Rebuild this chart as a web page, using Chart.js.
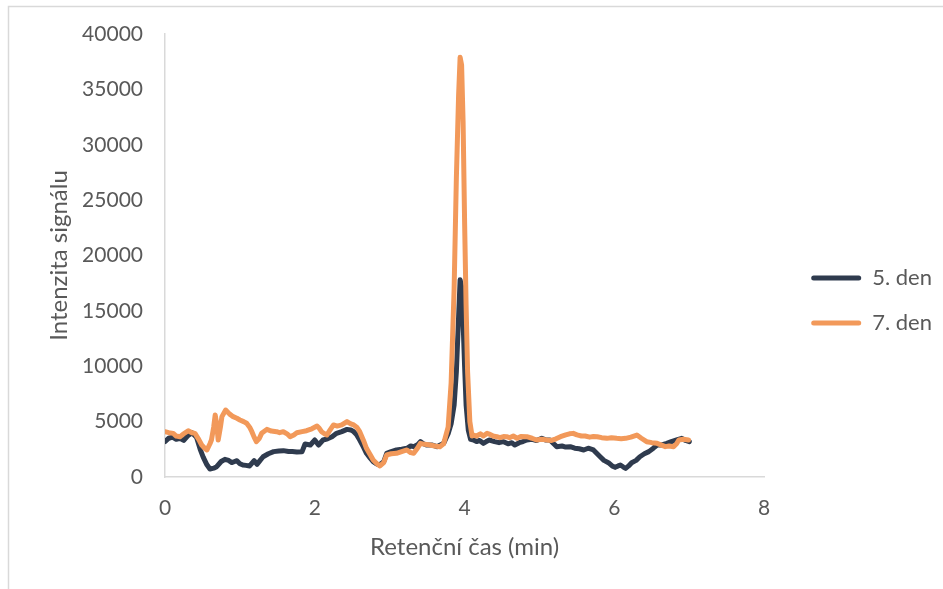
<!DOCTYPE html>
<html><head><meta charset="utf-8">
<script src="https://cdn.jsdelivr.net/npm/chart.js@4"></script>
<style>html,body{margin:0;padding:0;background:#fff;}</style>
</head><body>
<canvas id="c" width="943" height="589" style="display:block"></canvas>
<script>
const seriesNames = ['5. den', '7. den'];
const xTitle = 'Retenční čas (min)';
const yTitle = 'Intenzita signálu';
const xTicks = [0, 2, 4, 6, 8];
const yTicks = [0, 5000, 10000, 15000, 20000, 25000, 30000, 35000, 40000];

const time5 = [0.00,0.05,0.10,0.15,0.20,0.25,0.30,0.36,0.42,0.47,0.51,0.56,0.60,0.65,0.69,0.75,0.80,0.85,0.89,0.93,0.96,1.00,1.04,1.08,1.13,1.19,1.23,1.27,1.31,1.38,1.45,1.52,1.58,1.65,1.70,1.76,1.83,1.87,1.94,2.00,2.05,2.11,2.17,2.23,2.29,2.36,2.43,2.48,2.52,2.56,2.60,2.65,2.69,2.74,2.78,2.82,2.86,2.92,2.96,3.02,3.09,3.16,3.23,3.28,3.32,3.37,3.41,3.45,3.49,3.56,3.63,3.68,3.72,3.78,3.82,3.86,3.89,3.92,3.94,3.96,3.98,4.00,4.02,4.05,4.08,4.12,4.16,4.20,4.25,4.29,4.33,4.40,4.46,4.52,4.58,4.63,4.67,4.73,4.78,4.83,4.90,4.96,5.03,5.08,5.14,5.19,5.23,5.30,5.35,5.41,5.47,5.53,5.59,5.65,5.72,5.77,5.81,5.86,5.92,5.97,6.01,6.05,6.08,6.12,6.15,6.19,6.23,6.29,6.34,6.40,6.46,6.52,6.57,6.63,6.70,6.76,6.83,6.90,6.95,7.00];
const int5 = [3200,3500,3600,3400,3500,3300,3700,4000,3600,2500,1800,1100,720,800,930,1400,1600,1500,1300,1400,1470,1200,1080,1050,1000,1470,1150,1500,1830,2100,2290,2350,2380,2300,2300,2260,2290,2980,2890,3340,2890,3340,3450,3640,3940,4100,4300,4250,4090,3800,3340,2700,2140,1700,1380,1200,1080,1380,2140,2300,2440,2500,2590,2800,2740,2900,3190,3000,2890,2900,2740,2900,3040,3900,4800,6500,9500,14500,17800,17200,14000,10000,6500,4200,3400,3340,3200,3300,3040,3200,3340,3200,3100,3190,3000,3100,2890,3100,3200,3340,3400,3300,3490,3350,3340,3000,2740,2800,2700,2740,2600,2550,2440,2600,2440,2100,1830,1500,1290,1000,870,1000,1080,900,780,1000,1290,1500,1830,2100,2290,2600,2890,2900,3040,3200,3340,3490,3300,3190];

const time7 = [0.00,0.05,0.11,0.15,0.20,0.25,0.31,0.36,0.40,0.45,0.49,0.53,0.56,0.60,0.62,0.65,0.67,0.69,0.71,0.74,0.76,0.81,0.86,0.91,0.96,1.00,1.05,1.09,1.13,1.16,1.19,1.22,1.26,1.29,1.36,1.42,1.49,1.53,1.58,1.63,1.67,1.72,1.76,1.83,1.89,1.96,2.03,2.06,2.09,2.13,2.16,2.20,2.25,2.30,2.36,2.43,2.48,2.52,2.56,2.60,2.65,2.69,2.74,2.78,2.83,2.87,2.92,2.96,3.02,3.09,3.16,3.23,3.28,3.32,3.37,3.41,3.47,3.54,3.60,3.67,3.72,3.78,3.82,3.86,3.89,3.92,3.94,3.96,3.98,4.00,4.02,4.04,4.07,4.10,4.12,4.16,4.21,4.25,4.30,4.34,4.38,4.43,4.47,4.52,4.56,4.60,4.65,4.70,4.75,4.83,4.90,4.96,5.03,5.10,5.16,5.22,5.28,5.35,5.40,5.45,5.50,5.56,5.61,5.67,5.72,5.77,5.83,5.90,5.96,6.03,6.09,6.15,6.22,6.30,6.36,6.43,6.50,6.57,6.62,6.68,6.73,6.79,6.83,6.86,6.92,6.99];
const int7 = [4090,4000,3940,3700,3640,3900,4180,4000,3940,3400,2890,2600,2440,3000,3340,4500,5600,4800,3340,4500,5450,6050,5700,5450,5300,5150,5000,4850,4500,4090,3600,3190,3500,3940,4300,4150,4090,4000,4090,3900,3640,3800,4000,4100,4180,4350,4600,4400,4090,3900,3790,4200,4700,4600,4700,5000,4800,4700,4500,4090,3300,2590,2000,1530,1200,1000,1300,1990,2100,2140,2300,2440,2200,2140,2600,3040,2950,2890,2800,2740,3000,4500,8500,17000,27000,34500,37900,37200,32000,23000,15500,9500,5000,3700,3790,3700,3900,3700,3940,3850,3700,3640,3550,3650,3640,3550,3700,3500,3650,3640,3500,3340,3400,3340,3300,3450,3640,3800,3900,3940,3800,3700,3700,3600,3650,3640,3550,3490,3550,3490,3450,3490,3600,3790,3500,3190,3100,3040,2900,2740,2800,2740,3000,3340,3400,3340];

const colors = ['#2F3B4E', '#F2995A'];
const txt = '#595959';
const tickFont = {family: 'Lato', size: 21};
const titleFont = {family: 'Lato', size: 24};
const legendFont = {family: 'Lato', size: 22};

function pts(xs, ys) { return xs.map((x, i) => ({x: x, y: ys[i]})); }

const frame = {
  id: 'frame',
  beforeDraw(chart) {
    const ctx = chart.ctx;
    ctx.save();
    ctx.fillStyle = '#fff';
    ctx.fillRect(0, 0, chart.width, chart.height);
    ctx.strokeStyle = '#d9d9d9';
    ctx.lineWidth = 1.5;
    ctx.strokeRect(8.5, 6.5, 2000, 2000);
    ctx.restore();
  }
};

new Chart(document.getElementById('c'), {
  type: 'scatter',
  data: {
    datasets: [
      {label: seriesNames[0], data: pts(time5, int5), borderColor: colors[0], backgroundColor: colors[0], showLine: true, pointRadius: 0, borderWidth: 5, tension: 0, order: 1, borderJoinStyle: 'round', borderCapStyle: 'round'},
      {label: seriesNames[1], data: pts(time7, int7), borderColor: colors[1], backgroundColor: colors[1], showLine: true, pointRadius: 0, borderWidth: 5, tension: 0, order: 0, borderJoinStyle: 'round', borderCapStyle: 'round'}
    ]
  },
  options: {
    responsive: false,
    animation: false,
    devicePixelRatio: 1,
    layout: {padding: {left: 10, top: 34, right: 1, bottom: 22}},
    plugins: {
      tooltip: {enabled: false},
      legend: {
        position: 'right',
        labels: {
          boxWidth: 50, boxHeight: 5, padding: 23, color: txt, font: legendFont,
          generateLabels: (chart) => chart.data.datasets.map((d, i) => ({
            text: d.label, fillStyle: d.borderColor, strokeStyle: d.borderColor,
            lineWidth: 0, borderRadius: 2.5, datasetIndex: i, hidden: false, fontColor: txt
          }))
        }
      }
    },
    scales: {
      x: {
        type: 'linear', min: 0, max: 8,
        afterBuildTicks: (s) => { s.ticks = xTicks.map(v => ({value: v})); },
        afterFit: (s) => { s.height = 90; },
        grid: {display: false},
        border: {display: true, color: '#d9d9d9', width: 1.5},
        ticks: {padding: 11, color: txt, font: tickFont},
        title: {display: true, text: xTitle, color: txt, font: titleFont, padding: {top: 0, bottom: 5}}
      },
      y: {
        type: 'linear', min: 0, max: 40000,
        afterBuildTicks: (s) => { s.ticks = yTicks.map(v => ({value: v})); },
        afterFit: (s) => { s.width = 155; },
        grid: {display: false},
        border: {display: true, color: '#d9d9d9', width: 1.5},
        ticks: {padding: 14, color: txt, font: tickFont, callback: (v) => String(v)},
        title: {display: true, text: yTitle, color: txt, font: titleFont, padding: {top: 35, bottom: 26}}
      },
      yR: {
        type: 'linear', position: 'right', display: true,
        afterFit: (s) => { s.width = 24; },
        grid: {display: false}, border: {display: false}, ticks: {display: false}
      }
    }
  },
  plugins: [frame]
});
</script>
</body></html>
